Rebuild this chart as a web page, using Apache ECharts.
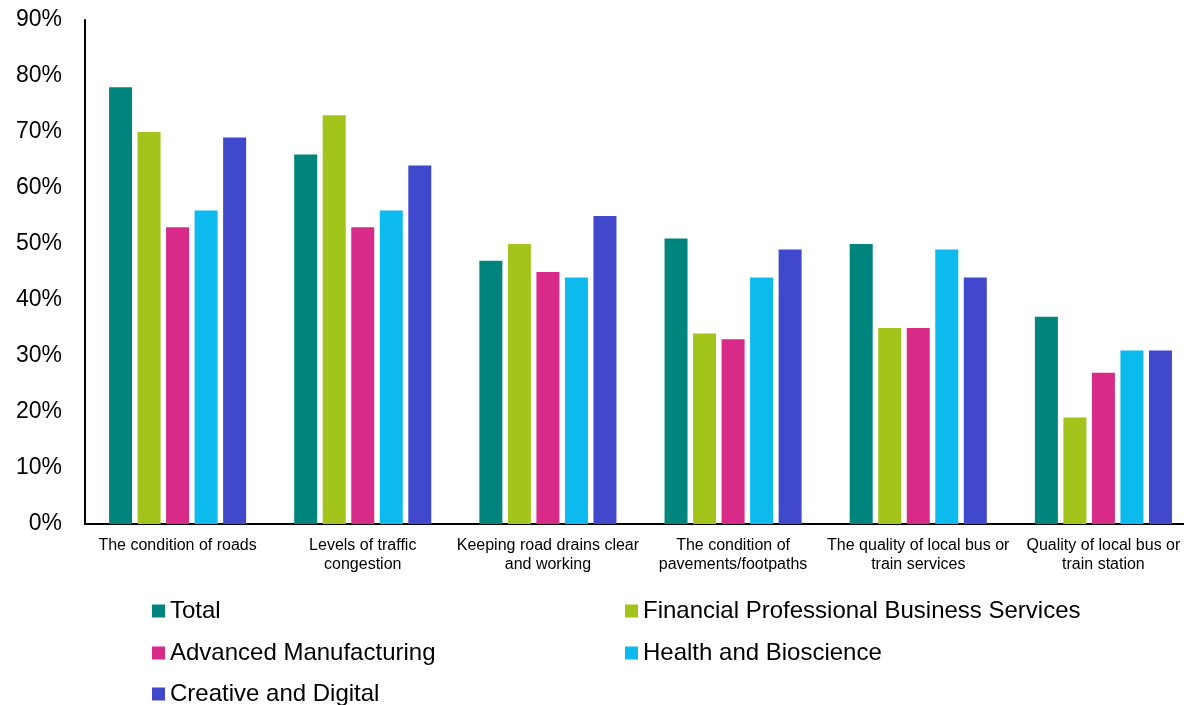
<!DOCTYPE html>
<html>
<head>
<meta charset="utf-8">
<script src="https://cdn.jsdelivr.net/npm/echarts@6/dist/echarts.min.js"></script>
<style>
  html, body { margin: 0; padding: 0; background: #fff; overflow: hidden; }
  #chart { width: 1196px; height: 705px; }
</style>
</head>
<body>
<div id="chart"></div>
<script>
// Transport issues rated as priorities, by sector
const categories = [
  'The condition of roads',
  'Levels of traffic\ncongestion',
  'Keeping road drains clear\nand working',
  'The condition of\npavements/footpaths',
  'The quality of local bus or\ntrain services',
  'Quality of local bus or\ntrain station'
];
const seriesNames = [
  'Total',
  'Financial Professional Business Services',
  'Advanced Manufacturing',
  'Health and Bioscience',
  'Creative and Digital'
];
const total      = [78, 66, 47, 51, 50, 37];
const financial  = [70, 73, 50, 34, 35, 19];
const advanced   = [53, 53, 45, 33, 35, 27];
const health     = [56, 56, 44, 44, 49, 31];
const creative   = [69, 64, 55, 49, 44, 31];
const yTicks = [0, 10, 20, 30, 40, 50, 60, 70, 80, 90];

const values = [total, financial, advanced, health, creative];
const colors = ['#00847E', '#A3C51B', '#D72A89', '#0DBAEE', '#4048CB'];

const chart = echarts.init(document.getElementById('chart'));

// legend placed as a two-column grid
const legendSpots = [
  { left: 147, top: 594 },
  { left: 620, top: 594 },
  { left: 147, top: 636 },
  { left: 620, top: 636 },
  { left: 147, top: 677 }
];
const legends = seriesNames.map((name, i) => ({
  data: [name],
  left: legendSpots[i].left,
  top: legendSpots[i].top,
  icon: 'rect',
  itemWidth: 13,
  itemHeight: 13,
  itemGap: 0,
  selectedMode: false,
  textStyle: { fontFamily: 'Liberation Sans, Arial', fontSize: 24, color: '#000' }
}));

chart.setOption({
  animation: false,
  color: colors,
  legend: legends,
  grid: { left: 85, top: 20, width: 1111, height: 504, containLabel: false },
  xAxis: {
    type: 'category',
    data: categories,
    axisLine: { show: true, lineStyle: { color: '#000', width: 2 } },
    axisTick: { show: false },
    axisLabel: {
      interval: 0,
      margin: 12,
      fontFamily: 'Liberation Sans, Arial',
      fontSize: 16,
      lineHeight: 19,
      color: '#000'
    }
  },
  yAxis: {
    type: 'value',
    min: yTicks[0],
    max: yTicks[yTicks.length - 1],
    interval: 10,
    axisLine: { show: true, lineStyle: { color: '#000', width: 2 } },
    axisTick: { show: false },
    splitLine: { show: false },
    axisLabel: {
      margin: 23,
      fontFamily: 'Liberation Sans, Arial',
      fontSize: 23,
      color: '#000',
      formatter: v => v + '%'
    }
  },
  series: seriesNames.map((name, i) => ({
    name,
    type: 'bar',
    data: values[i],
    barWidth: 23,
    barGap: '24%',
    itemStyle: { color: colors[i] }
  }))
});
</script>
</body>
</html>
